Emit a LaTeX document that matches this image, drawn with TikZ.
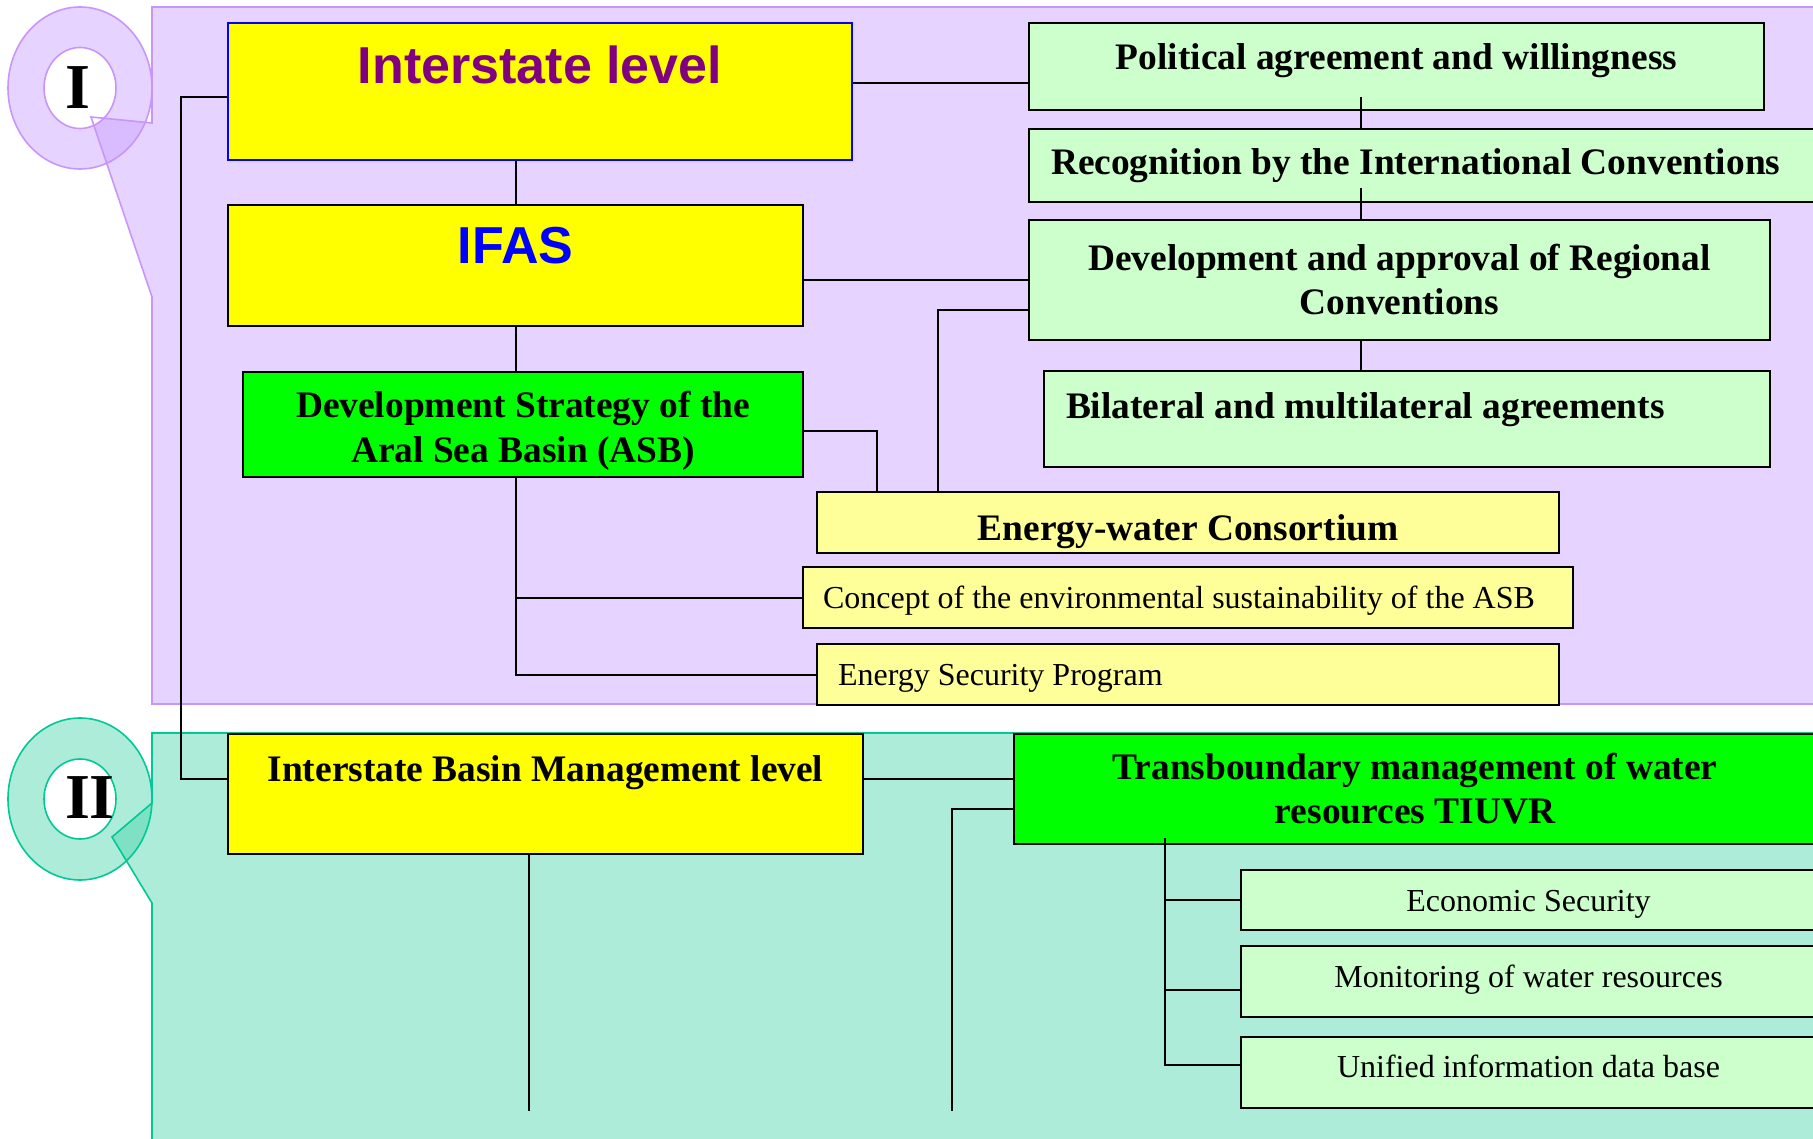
\documentclass[tikz,border=0pt]{standalone}
\usepackage{fontspec}
\setmainfont{Liberation Serif}
\newfontfamily\headfont{Liberation Sans}
\usetikzlibrary{positioning}

\definecolor{lilac}{RGB}{200,160,255}
\definecolor{lilacline}{RGB}{200,150,250}
\definecolor{seafill}{RGB}{60,210,165}
\definecolor{sealine}{RGB}{0,200,150}
\definecolor{boxyellow}{RGB}{255,255,0}
\definecolor{paleyellow}{RGB}{255,255,153}
\definecolor{boxgreen}{RGB}{0,255,0}
\definecolor{palegreen}{RGB}{204,255,204}
\definecolor{headpurple}{RGB}{128,0,128}
\definecolor{headblue}{RGB}{0,0,255}

\newcommand{\boldtxt}{\fontsize{37.4}{44}\selectfont\bfseries}
\newcommand{\plaintxt}{\fontsize{32}{38}\selectfont}
\newcommand{\headtxt}{\headfont\fontsize{52}{52}\selectfont\bfseries}
\newcommand{\numtxt}{\fontsize{64}{64}\selectfont\bfseries}

\begin{document}
\begin{tikzpicture}[x=1pt,y=-1pt,
    box/.style={draw,rectangle,line width=2pt,inner sep=0pt,anchor=north west},
    yellowbox/.style={box,fill=boxyellow},
    greenbox/.style={box,fill=boxgreen,align=center,font=\boldtxt},
    palebox/.style={box,fill=palegreen},
    lightbox/.style={box,fill=paleyellow},
    conn/.style={line width=2pt},
    panelline/.style={line width=1.6pt}]
  \useasboundingbox (0,0) rectangle (1813,1139);
  \clip (0,0) rectangle (1813,1139);

  % level I panel
  \fill[lilac,fill opacity=.46] (152,7) -- (1830,7) -- (1830,704) -- (152,704)
    -- (152,297) -- (91,117) -- (152,123) -- cycle;
  \fill[lilac,fill opacity=.46] (80,88) ellipse [x radius=72,y radius=81];
  \fill[white] (80,88) ellipse [x radius=36,y radius=40.5];
  \draw[lilacline,panelline] (80,88) ellipse [x radius=72,y radius=81]
    (80,88) ellipse [x radius=36,y radius=40.5];
  \draw[lilacline,panelline] (1830,7) -- (152,7) -- (152,123) -- (91,117)
    -- (152,297) -- (152,704) -- (1830,704);
  \node (numI) at (78,88) {\numtxt I};

  % level II panel
  \fill[seafill,fill opacity=.42] (152,733) -- (1830,733) -- (1830,1150) -- (152,1150)
    -- (152,903) -- (112,837) -- (152,803) -- cycle;
  \fill[seafill,fill opacity=.42] (80,799) ellipse [x radius=72,y radius=81];
  \fill[white] (80,799) ellipse [x radius=36,y radius=40];
  \draw[sealine,panelline] (80,799) ellipse [x radius=72,y radius=81]
    (80,799) ellipse [x radius=36,y radius=40];
  \draw[sealine,panelline] (1830,733) -- (152,733) -- (152,803) -- (112,837)
    -- (152,903) -- (152,1150);
  \node (numII) at (90,798) {\numtxt II};

  % left column
  \node[yellowbox,draw=blue,minimum width=624pt,minimum height=136.5pt,
    text height=37pt,text depth=54pt,font=\headtxt,text=headpurple]
    (inter) at (227,22.5) {Interstate level};
  \node[yellowbox,minimum width=575pt,minimum height=121pt,
    text height=36pt,text depth=39pt,font=\headtxt,text=headblue]
    (ifas) at (227,204) {IFAS};
  \node[greenbox,minimum width=560pt,minimum height=105pt,
    text height=75pt,text depth=0pt]
    (strategy) at (242,371) {Development Strategy of the\\Aral Sea Basin (ASB)};

  % right column
  \node[palebox,minimum width=735pt,minimum height=86.5pt,
    text height=25pt,text depth=20pt,font=\boldtxt]
    (political) at (1028,22.5) {Political agreement and willingness};
  \node[palebox,minimum width=800pt,minimum height=73pt,inner xsep=22pt,font=\boldtxt]
    (recog) at (1028,128) {\makebox[756pt][l]{Recognition by the International Conventions}};
  \node[palebox,minimum width=741pt,minimum height=120pt,align=center,font=\boldtxt]
    (regconv) at (1028,219) {Development and approval of Regional\\Conventions};
  \node[palebox,minimum width=726pt,minimum height=96pt,inner xsep=22pt,
    text height=25pt,text depth=26pt,font=\boldtxt]
    (bilat) at (1043,370) {\makebox[682pt][l]{Bilateral and multilateral agreements}};

  \node[lightbox,minimum width=742pt,minimum height=61pt,
    text height=35pt,text depth=0pt,font=\boldtxt]
    (consort) at (816,491) {Energy-water Consortium};
  \node[lightbox,minimum width=770pt,minimum height=61pt,inner xsep=20pt,
    text height=21pt,text depth=0pt,font=\plaintxt]
    (concept) at (802,566) {\makebox[730pt][l]{Concept of the environmental sustainability of the ASB}};
  \node[lightbox,minimum width=742pt,minimum height=61pt,inner xsep=21pt,
    text height=21pt,text depth=0pt,font=\plaintxt]
    (secprog) at (816,643) {\makebox[700pt][l]{Energy Security Program}};

  % level II boxes
  \node[yellowbox,minimum width=635pt,minimum height=120pt,
    text height=25pt,text depth=50pt,font=\boldtxt]
    (basin) at (227,733) {Interstate Basin Management level};
  \node[greenbox,minimum width=802pt,minimum height=110pt]
    (tiuvr) at (1013,733) {Transboundary management of water\\resources TIUVR};
  \node[palebox,minimum width=576pt,minimum height=60pt,
    text height=23pt,text depth=0pt,font=\plaintxt]
    (econ) at (1239.5,869) {Economic Security};
  \node[palebox,minimum width=576pt,minimum height=71pt,
    text height=21pt,text depth=9pt,font=\plaintxt]
    (monit) at (1239.5,945) {Monitoring of water resources};
  \node[palebox,minimum width=576pt,minimum height=71.5pt,
    text height=21pt,text depth=10pt,font=\plaintxt]
    (unified) at (1239.5,1035.5) {Unified information data base};

  \coordinate (trunk) at (ifas.south |- secprog.west);
  \coordinate (basinend) at (529,1111);
  \coordinate (tiuvrend) at (952,1111);

  % connectors
  \draw[conn] (inter.west |- 0,97) -- (181,97) -- (181,779) -- (basin.west |- 0,779);
  \draw[conn] (ifas.north |- inter.south) -- (ifas.north);
  \draw[conn] (ifas.south) -- (ifas.south |- strategy.north);
  \draw[conn] (trunk |- strategy.south) -- (trunk) -- (secprog.west);
  \draw[conn] (trunk |- concept.west) -- (concept.west);
  \draw[conn] (inter.east |- 0,83) -- (political.west |- 0,83);
  \draw[conn] (ifas.east |- regconv.west) -- (regconv.west);
  \draw[conn] (strategy.east |- 0,431) -| (877,0 |- consort.north);
  \draw[conn] (regconv.west |- 0,310) -| (938,0 |- consort.north);
  \draw[conn] (1361,97) -- (1361,0 |- recog.north);
  \draw[conn] (1361,188) -- (1361,0 |- regconv.north);
  \draw[conn] (1361,0 |- regconv.south) -- (1361,0 |- bilat.north);

  \draw[conn] (basin.east |- 0,779) -- (tiuvr.west |- 0,779);
  \draw[conn] (basinend |- basin.south) -- (basinend);
  \draw[conn] (tiuvr.west |- 0,809) -| (tiuvrend);
  \draw[conn] (1165,838) -- (1165,1065) -- (unified.west |- 0,1065);
  \draw[conn] (1165,0 |- econ.west) -- (econ.west);
  \draw[conn] (1165,990) -- (monit.west |- 0,990);
\end{tikzpicture}
\end{document}
